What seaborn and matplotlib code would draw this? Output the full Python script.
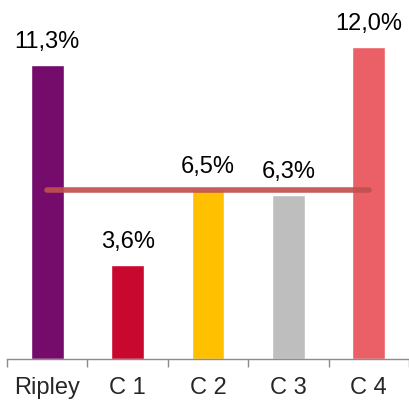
import matplotlib
matplotlib.use("Agg")
import matplotlib.pyplot as plt
import pandas as pd
import seaborn as sns

categories = ["Ripley", "C 1", "C 2", "C 3", "C 4"]
values = [11.3, 3.6, 6.5, 6.3, 12.0]
colors = ["#750C6C", "#C8082F", "#FFC000", "#BEBEBE", "#EB6067"]
reference = 6.5

sns.set_style("white")
plt.rcParams["font.family"] = ["Liberation Sans", "DejaVu Sans"]

df = pd.DataFrame({"cat": categories, "val": values})

fig = plt.figure(figsize=(4.09, 4.01), dpi=100)
ax = fig.add_axes([7 / 409, 42 / 401, 402 / 409, 359 / 401])

sns.barplot(data=df, x="cat", y="val", hue="cat", palette=colors,
            width=0.41, legend=False, ax=ax, saturation=1)

# reference line across categories
ax.plot([0, len(categories) - 1], [reference, reference], color="#C0504D",
        lw=4, alpha=0.92, solid_capstyle="round", zorder=5)

for i, v in enumerate(values):
    ax.annotate(f"{v:.1f}%".replace(".", ","), (i, v), xytext=(0, 12.2),
                textcoords="offset points", ha="center", va="baseline",
                fontsize=17, color="#000000")

ax.set_xlim(-0.5, 4.46)
ax.set_ylim(0, 13.8)
ax.set_xlabel("")
ax.set_ylabel("")
ax.set_yticks([])
ax.set_xticks([i - 0.5 for i in range(len(categories) + 1)], minor=False)
ax.set_xticklabels([])
ax.set_xticks(range(len(categories)), minor=True)
ax.set_xticklabels(categories, minor=True, fontsize=17)
ax.tick_params(axis="x", which="major", direction="out", length=6,
               width=1, color="#8C8C8C", bottom=True)
ax.tick_params(axis="x", which="minor", length=0, pad=13)
for side in ["top", "right", "left"]:
    ax.spines[side].set_visible(False)
ax.spines["bottom"].set_color("#8C8C8C")
ax.spines["bottom"].set_linewidth(1)

fig.savefig("out.png", dpi=100)
